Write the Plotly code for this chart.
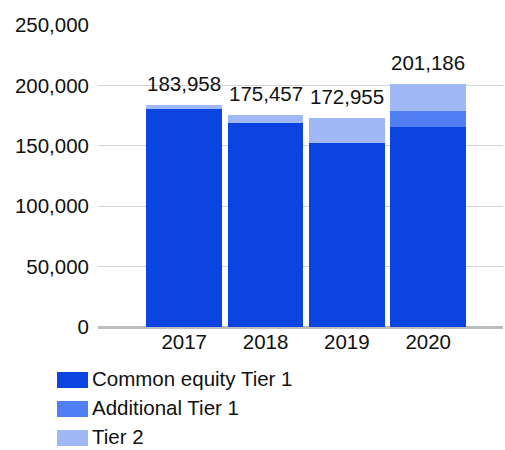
import plotly.graph_objects as go

years = ["2017", "2018", "2019", "2020"]
cet1 = [180250, 168660, 152350, 165600]
at1 = [0, 0, 0, 13250]
totals = [183958, 175457, 172955, 201186]
tier2 = [t - c - a for t, c, a in zip(totals, cet1, at1)]

series_names = ["Common equity Tier 1", "Additional Tier 1", "Tier 2"]
colors = ["#0b44e0", "#4f7ff2", "#a1b8f6"]
FONT = "Liberation Sans, Arial, sans-serif"

fig = go.Figure()
for name, vals, col in zip(series_names, [cet1, at1, tier2], colors):
    fig.add_trace(go.Bar(x=years, y=vals, name=name, marker=dict(color=col, line=dict(width=0)),
                         showlegend=False, hoverinfo="x+y+name"))

for i, (yr, t) in enumerate(zip(years, totals)):
    fig.add_annotation(x=i, y=t, xref="x", yref="y", text=f"{t:,}", showarrow=False,
                       yanchor="bottom", yshift=8,
                       font=dict(size=20.5, color="#111", family=FONT))

# custom legend
for i, (name, col) in enumerate(zip(series_names, colors)):
    yc = 380 + i * 29
    fig.add_shape(type="rect", xref="paper", yref="paper",
                  x0=(57 - 98) / 405, x1=(88 - 98) / 405,
                  y0=(327 - (yc - 8)) / 302, y1=(327 - (yc + 8)) / 302,
                  fillcolor=col, line=dict(width=0))
    fig.add_annotation(xref="paper", yref="paper", x=(91 - 98) / 405, y=(327 - yc + 2) / 302,
                       text=name, showarrow=False, xanchor="left", yanchor="middle", borderpad=0,
                       font=dict(size=20.5, color="#111", family=FONT))

fig.update_layout(
    width=505, height=450,
    margin=dict(l=98, r=2, t=25, b=123),
    barmode="stack", bargap=0.07,
    plot_bgcolor="white", paper_bgcolor="white",
    font=dict(family=FONT, size=20.5, color="#111"),
    xaxis=dict(type="category", range=[-1.06, 3.92], showgrid=False, ticks="", showline=False,
               tickfont=dict(size=20.5, color="#111")),
    yaxis=dict(range=[0, 250000], tickvals=[0, 50000, 100000, 150000, 200000, 250000],
               tickformat=",", showgrid=True, gridcolor="#d4d4d4", gridwidth=1,
               zeroline=True, zerolinecolor="#bdbdbd", zerolinewidth=3,
               ticks="", ticklabelstandoff=8, tickfont=dict(size=20.5, color="#111")),
)

fig.write_html("out.html")
